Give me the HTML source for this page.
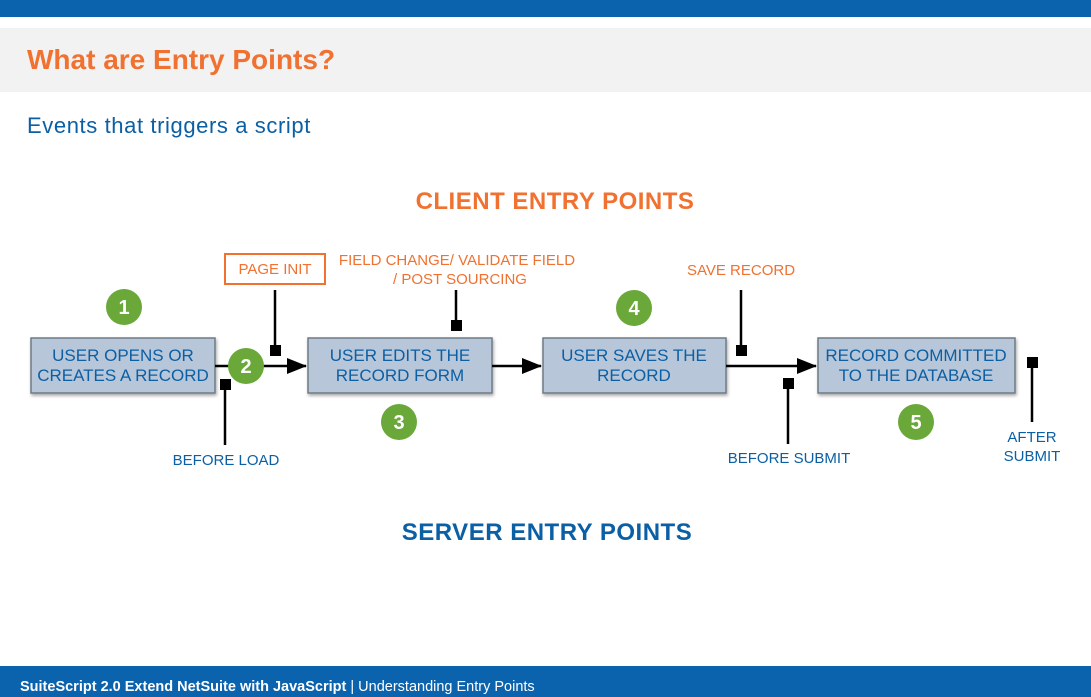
<!DOCTYPE html>
<html><head><meta charset="utf-8"><style>
body{margin:0;width:1091px;height:697px;overflow:hidden;background:#fff;font-family:"Liberation Sans",sans-serif;}
</style></head><body>
<svg width="1091" height="697" xmlns="http://www.w3.org/2000/svg" style="position:absolute;left:0;top:0">
<defs><marker id="a" markerWidth="20" markerHeight="16" refX="19" refY="8" orient="auto" markerUnits="userSpaceOnUse"><path d="M0,0 L20,8 L0,16 z" fill="#000"/></marker>
<filter id="s"><feDropShadow dx="1" dy="2" stdDeviation="1.5" flood-opacity="0.35"/></filter></defs>
<rect x="0" y="0" width="1091" height="17" fill="#0b62ad"/>
<rect x="0" y="28" width="1091" height="64" fill="#f2f2f2"/>
<text x="27" y="69" font-size="28" font-weight="bold" fill="#f07130">What are Entry Points?</text>
<text x="27" y="133" font-size="22" fill="#0b5fa5" letter-spacing="0.6">Events that triggers a script</text>
<text x="555" y="209" font-size="24" font-weight="bold" fill="#f07130" text-anchor="middle" letter-spacing="0.5">CLIENT ENTRY POINTS</text>
<text x="547" y="540" font-size="24" font-weight="bold" fill="#0b5fa5" text-anchor="middle" letter-spacing="0.5">SERVER ENTRY POINTS</text>
<g fill="#b7c6d8" stroke="#6e7a86" stroke-width="1.5" filter="url(#s)">
<rect x="31" y="338" width="184" height="55"/><rect x="308" y="338" width="184" height="55"/>
<rect x="543" y="338" width="183" height="55"/><rect x="818" y="338" width="197" height="55"/></g>
<g font-size="17" fill="#0b5fa5" text-anchor="middle">
<text x="123" y="361">USER OPENS OR</text><text x="123" y="381">CREATES A RECORD</text>
<text x="400" y="361">USER EDITS THE</text><text x="400" y="381">RECORD FORM</text>
<text x="634" y="361">USER SAVES THE</text><text x="634" y="381">RECORD</text>
<text x="916" y="361">RECORD COMMITTED</text><text x="916" y="381">TO THE DATABASE</text></g>
<g stroke="#000" stroke-width="2.5" fill="none">
<line x1="215" y1="366" x2="306" y2="366" marker-end="url(#a)"/>
<line x1="492" y1="366" x2="541" y2="366" marker-end="url(#a)"/>
<line x1="726" y1="366" x2="816" y2="366" marker-end="url(#a)"/>
<line x1="275" y1="290" x2="275" y2="346"/><line x1="225" y1="388" x2="225" y2="445"/>
<line x1="456" y1="290" x2="456" y2="322"/><line x1="741" y1="290" x2="741" y2="346"/>
<line x1="788" y1="387" x2="788" y2="444"/><line x1="1032" y1="366" x2="1032" y2="422"/></g>
<g fill="#000"><rect x="270" y="345" width="11" height="11"/><rect x="220" y="379" width="11" height="11"/>
<rect x="451" y="320" width="11" height="11"/><rect x="736" y="345" width="11" height="11"/>
<rect x="783" y="378" width="11" height="11"/><rect x="1027" y="357" width="11" height="11"/></g>
<g fill="#6aa83a"><circle cx="124" cy="307" r="18"/><circle cx="246" cy="366" r="18"/><circle cx="399" cy="422" r="18"/><circle cx="634" cy="308" r="18"/><circle cx="916" cy="422" r="18"/></g>
<g fill="#fff" font-size="20" font-weight="bold" text-anchor="middle">
<text x="124" y="314">1</text><text x="246" y="373">2</text><text x="399" y="429">3</text><text x="634" y="315">4</text><text x="916" y="429">5</text></g>
<rect x="225" y="254" width="100" height="30" fill="#fff" stroke="#f07130" stroke-width="2"/>
<g font-size="15" fill="#f07130" text-anchor="middle">
<text x="275" y="274">PAGE INIT</text>
<text x="457" y="265">FIELD CHANGE/ VALIDATE FIELD</text><text x="460" y="284">/ POST SOURCING</text>
<text x="741" y="275">SAVE RECORD</text></g>
<g font-size="15" fill="#0b5fa5" text-anchor="middle">
<text x="226" y="465">BEFORE LOAD</text><text x="789" y="463">BEFORE SUBMIT</text>
<text x="1032" y="442">AFTER</text><text x="1032" y="461">SUBMIT</text></g>
<rect x="0" y="666" width="1091" height="31" fill="#0b62ad"/>
<text x="20" y="691" font-size="14.5" fill="#fff"><tspan font-weight="bold">SuiteScript 2.0 Extend NetSuite with JavaScript</tspan> | Understanding Entry Points</text>
</svg>
</body></html>
